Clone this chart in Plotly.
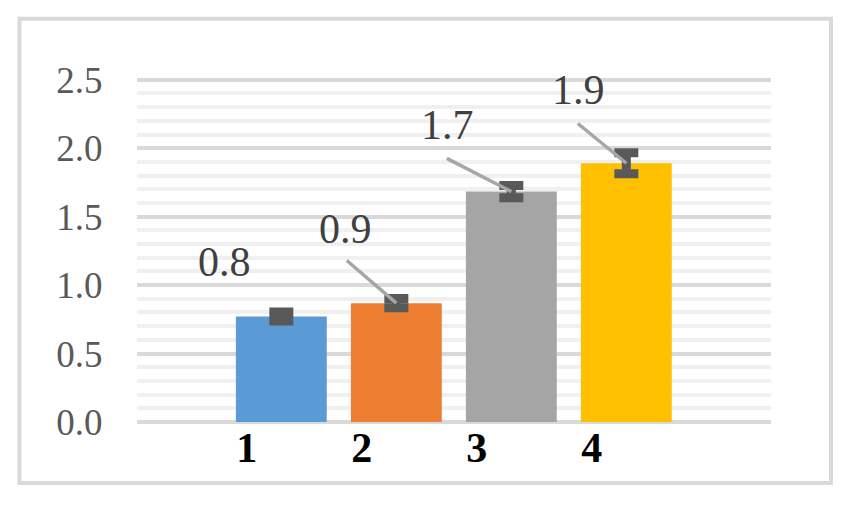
import plotly.graph_objects as go

# data
categories = [1, 2, 3, 4]
tick_labels = ["1", "2", "3", "4"]
values = [0.77, 0.868, 1.683, 1.89]
errors = [0.033, 0.034, 0.045, 0.077]
colors = ["#5b9bd5", "#ed7d31", "#a5a5a5", "#ffc000"]

# label placement (pixel offsets from the bar top) and leader line starts
label_offsets = [(-57, -55), (-51, -74), (-64, -67), (-48, -73)]
leader_offsets = [None, (-51, -44), (-66, -34), (-50, -41)]

W, H = 857, 505
Y_TOP = 2.52  # a bit above 2.5 so plotly keeps the top gridline
PX_PER_UNIT = 136.8
PLOT_L, PLOT_R, PLOT_B = 137, 771, 422
PLOT_T = PLOT_B - Y_TOP * PX_PER_UNIT

fig = go.Figure()

fig.add_trace(go.Bar(
    x=categories,
    y=values,
    width=0.79,
    marker=dict(color=colors, line=dict(width=0)),
    error_y=dict(type="data", array=errors, visible=True,
                 color="#595959", thickness=9, width=12),
    showlegend=False,
    hoverinfo="skip",
))

annotations = []
for c, v, (dx, dy) in zip(categories, values, label_offsets):
    annotations.append(dict(
        x=c, y=v, xref="x", yref="y", text=f"{v:.1f}", showarrow=False,
        xshift=dx, yshift=-dy,
        font=dict(family="Liberation Serif", size=42, color="#404040"),
    ))
for c, v, off in zip(categories, values, leader_offsets):
    if off is None:
        continue
    annotations.append(dict(
        x=c, y=v, xref="x", yref="y", text="", showarrow=True,
        ax=off[0], ay=off[1], arrowhead=0, arrowwidth=3.5,
        arrowcolor="#a6a6a6", standoff=0,
    ))

pw, ph = PLOT_R - PLOT_L, PLOT_B - PLOT_T
def px_x(p):
    return (p - PLOT_L) / pw
def px_y(p):
    return (PLOT_B - p) / ph

fig.update_layout(
    width=W, height=H,
    margin=dict(l=PLOT_L, r=W - PLOT_R, t=PLOT_T, b=H - PLOT_B),
    paper_bgcolor="white",
    plot_bgcolor="white",
    annotations=annotations,
    shapes=[dict(type="rect", xref="paper", yref="paper",
                 x0=px_x(19.5), x1=px_x(831), y0=px_y(483), y1=px_y(19),
                 line=dict(color="#d9d9d9", width=4), layer="below")],
)

fig.update_xaxes(
    range=[-0.255, 5.258],
    tickvals=[c - 0.30 for c in categories],
    ticktext=tick_labels,
    tickfont=dict(family="Liberation Serif", size=42, color="black", weight="bold"),
    showgrid=False, zeroline=False, showline=False,
    ticks="", ticklabelstandoff=-3,
)
fig.update_yaxes(
    range=[0, Y_TOP],
    tickvals=[0, 0.5, 1.0, 1.5, 2.0, 2.5],
    tickformat=".1f",
    tickfont=dict(family="Liberation Serif", size=37, color="#595959"),
    showgrid=True, gridcolor="#d9d9d9", gridwidth=3.5,
    minor=dict(tick0=0, dtick=0.1, showgrid=True, gridcolor="#f0f0f0", gridwidth=3.5),
    zeroline=True, zerolinecolor="#d9d9d9", zerolinewidth=3.5,
    showline=False,
    ticks="outside", ticklen=26, tickcolor="rgba(0,0,0,0)",
)

fig.write_html("out.html", config={"displayModeBar": False},
               post_script="document.body.style.margin='0';")
